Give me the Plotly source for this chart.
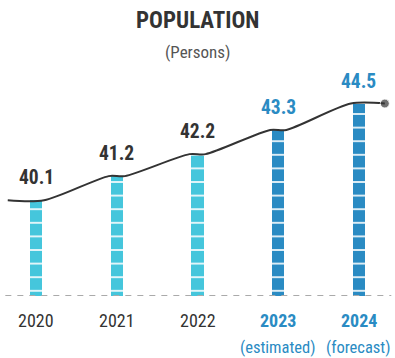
import plotly.graph_objects as go

years = ["2020", "2021", "2022", "2023", "2024"]
notes = ["", "", "", "(estimated)", "(forecast)"]
values = [40.1, 41.2, 42.2, 43.3, 44.5]
kinds = ["actual", "actual", "actual", "projected", "projected"]

LIGHT = "#45c6dc"
DARK = "#2a8bc3"
TEXT = "#333333"
FONT = "Roboto Condensed, Liberation Sans Narrow, Roboto, sans-serif"

Y_MIN = 35.75
Y_MAX = 45.57

xs = list(range(len(years)))
lbl_colors = [TEXT if k == "actual" else DARK for k in kinds]

fig = go.Figure()
for kind, col in (("actual", LIGHT), ("projected", DARK)):
    bx = [i for i, k in zip(xs, kinds) if k == kind]
    by = [v for v, k in zip(values, kinds) if k == kind]
    fig.add_trace(go.Bar(
        x=bx, y=by, width=0.15,
        marker=dict(color=col, line=dict(width=0),
                    pattern=dict(shape="-", fgcolor="white", bgcolor=col,
                                 size=13.6, solidity=0.12, fillmode="replace")),
        hoverinfo="skip",
    ))

# connecting step-like line
lx, ly = [], []
for i, v in zip(xs, values):
    left = -0.35 if i == 0 else i - 0.1
    right = 4.32 if i == len(xs) - 1 else i + 0.1
    lx += [left, right]
    ly += [v, v]
fig.add_trace(go.Scatter(
    x=lx, y=ly, mode="lines+markers",
    line=dict(color=TEXT, width=2, shape="spline", smoothing=0.8),
    marker=dict(size=[0] * (len(lx) - 1) + [9], color=TEXT),
    hoverinfo="skip",
))

fig.add_shape(type="line", xref="x", yref="y", x0=-0.38, x1=4.4, y0=Y_MIN, y1=Y_MIN,
              line=dict(color="#aaaaaa", width=2, dash="6px,6px"), layer="above")

anns = []
for i, v, c in zip(xs, values, lbl_colors):
    anns.append(dict(x=i, y=v, xref="x", yref="y", text=f"<b>{v:.1f}</b>", showarrow=False,
                     yanchor="bottom", yshift=9, font=dict(family=FONT, size=19.5, color=c)))
for i, yr, nt, k, c in zip(xs, years, notes, kinds, lbl_colors):
    t = yr if k == "actual" else f"<b>{yr}</b>"
    anns.append(dict(x=i, y=0, xref="x", yref="paper", text=t, showarrow=False,
                     yanchor="middle", yshift=-24, font=dict(family=FONT, size=18, color=c)))
    if nt:
        anns.append(dict(x=i, y=0, xref="x", yref="paper", text=nt, showarrow=False,
                         yanchor="middle", yshift=-51, font=dict(family=FONT, size=16.5, color=c)))
anns.append(dict(x=0.5, y=1, xref="paper", yref="paper", text="<b>POPULATION</b>", showarrow=False,
                 yanchor="middle", yshift=60, font=dict(family=FONT, size=23, color=TEXT)))
anns.append(dict(x=0.5, y=1, xref="paper", yref="paper", text="(Persons)", showarrow=False,
                 yanchor="middle", yshift=28, font=dict(family=FONT, size=17, color="#555555")))

fig.update_layout(
    width=395, height=358,
    margin=dict(l=0, r=0, t=80, b=62),
    paper_bgcolor="white", plot_bgcolor="white",
    showlegend=False,
    barmode="overlay",
    xaxis=dict(range=[-0.446, 4.446], visible=False, fixedrange=True),
    yaxis=dict(range=[Y_MIN, Y_MAX], visible=False, fixedrange=True),
    annotations=anns,
    bargap=0,
)
fig.write_html("out.html", config={"displayModeBar": False},
               post_script="document.body.style.margin='0';")
